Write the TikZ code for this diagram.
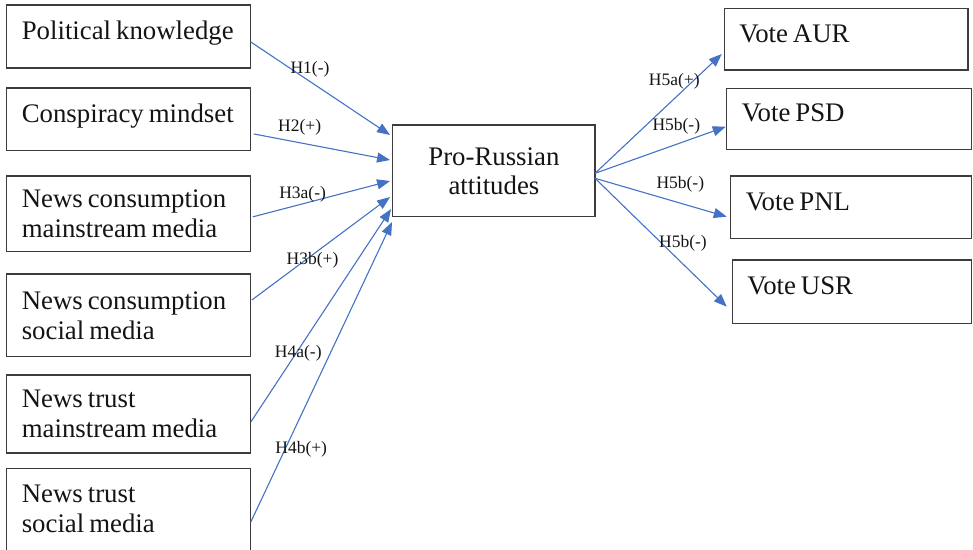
\documentclass[tikz,border=0pt]{standalone}
\usepackage{fontspec}
\setmainfont{Liberation Serif}
\usetikzlibrary{positioning, arrows.meta}
\hyphenpenalty=10000

\definecolor{linkblue}{HTML}{4472C4}
\definecolor{boxgray}{HTML}{3C3C3C}

\begin{document}
\begin{tikzpicture}[x=1pt, y=-1pt, node distance=20pt,
  every node/.style={align=left, text=black!92, outer sep=0pt},
  factor/.style={draw=boxgray, line width=1.3pt, shape=rectangle, text width=214pt, inner xsep=15pt, inner ysep=0pt,
    font=\fontsize{26.8}{30}\selectfont, execute at begin node={\spaceskip=5pt plus 1pt\relax}},
  oneline/.style={text height=12pt, text depth=6pt},
  hyp/.style={font=\fontsize{17.5}{20}\selectfont, inner sep=0pt},
  effect/.style={draw=linkblue, line width=1.1pt, -{Triangle[length=13pt, width=10pt]}, fill=none}]

  \useasboundingbox (0,0) rectangle (973,549);

  % predictors
  \node[factor, oneline, minimum height=63pt] (knowledge) at (128.8,36.5) {Political knowledge};
  \node[factor, oneline, minimum height=62.7pt, below=20pt of knowledge] (conspiracy) {Conspiracy mindset};
  \node[factor, minimum height=75.7pt, below=25.3pt of conspiracy] (consmain) {News consumption\\mainstream media};
  \node[factor, minimum height=82.7pt, below=22.3pt of consmain] (conssocial) {News consumption\\social media};
  \node[factor, minimum height=78pt, below=18.3pt of conssocial] (trustmain) {News trust\\mainstream media};
  \node[factor, minimum height=82pt, below=15.3pt of trustmain] (trustsocial) {News trust\\social media};

  % mediator
  \node[factor, align=center, text width=172.3pt, minimum height=91.7pt, font=\fontsize{26.8}{29}\selectfont] (attitudes) at (493.9,170.8) {Pro-Russian\\attitudes};

  % outcomes
  \node[factor, oneline, text width=213.7pt, minimum height=61.7pt] (aur) at (846.2,39.2) {Vote AUR};
  \node[factor, oneline, text width=214.8pt, minimum height=61pt, below=18.3pt of aur.south west, anchor=north west, xshift=2.4pt] (psd) {Vote PSD};
  \node[factor, oneline, text width=210.8pt, minimum height=62.3pt, below=26.7pt of psd.south west, anchor=north west, xshift=4pt] (pnl) {Vote PNL};
  \node[factor, oneline, text width=209.2pt, minimum height=63.3pt, below=21.7pt of pnl.south west, anchor=north west, xshift=1.6pt] (usr) {Vote USR};

  % hypotheses into the mediator
  \draw[effect] ([yshift=-5.5pt]knowledge.east) -- ([xshift=-2.7pt, yshift=35.8pt]attitudes.west);
  \draw[effect] ([xshift=3pt, yshift=-14.6pt]conspiracy.east) -- ([xshift=-2.7pt, yshift=10.8pt]attitudes.west);
  \draw[effect] ([xshift=2pt, yshift=-3pt]consmain.east) -- ([xshift=-2.7pt, yshift=-10.2pt]attitudes.west);
  \draw[effect] ([xshift=1pt, yshift=15.3pt]conssocial.east) -- ([xshift=-2.7pt, yshift=-26.2pt]attitudes.west);
  \draw[effect] ([yshift=-8pt]trustmain.east) -- ([xshift=-1.7pt, yshift=-38.2pt]attitudes.west);
  \draw[effect] ([yshift=-12.7pt]trustsocial.east) -- ([xshift=-0.7pt, yshift=-51.2pt]attitudes.west);

  % hypotheses out of the mediator
  \draw[effect] ([yshift=-2.5pt]attitudes.east) -- ([xshift=-2.6pt, yshift=-14.8pt]aur.west);
  \draw[effect] ([yshift=-2.5pt]attitudes.east) -- ([xshift=-1pt, yshift=-7.9pt]psd.west);
  \draw[effect] ([yshift=-7.5pt]attitudes.east) -- ([xshift=-4pt, yshift=-9.5pt]pnl.west);
  \draw[effect] ([yshift=-7.5pt]attitudes.east) -- ([xshift=-5.6pt, yshift=-15pt]usr.west);

  % labels
  \node[hyp] (hone) at (310,69) {H1(-)};
  \node[hyp] (htwo) at (299.7,127.3) {H2(+)};
  \node[hyp] (hthreea) at (302.6,193.8) {H3a(-)};
  \node[hyp] (hthreeb) at (312.5,260.5) {H3b(+)};
  \node[hyp] (hfoura) at (298.3,353.7) {H4a(-)};
  \node[hyp] (hfourb) at (301.2,449.2) {H4b(+)};
  \node[hyp] (hfivea) at (674.3,81.7) {H5a(+)};
  \node[hyp] (hfivebpsd) at (676.3,126.7) {H5b(-)};
  \node[hyp] (hfivebpnl) at (680.3,184) {H5b(-)};
  \node[hyp] (hfivebusr) at (683,243.3) {H5b(-)};
\end{tikzpicture}
\end{document}
